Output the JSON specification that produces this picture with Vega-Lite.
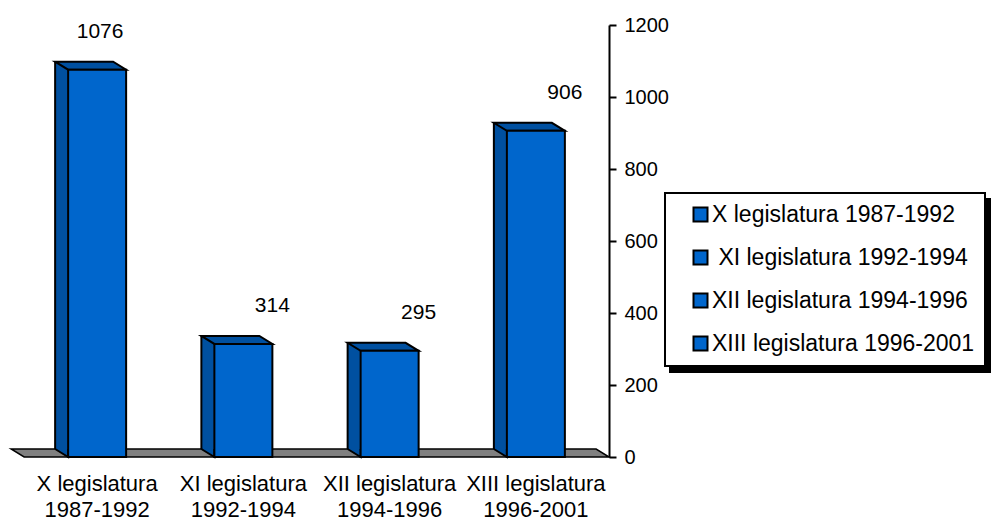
{
  "$schema": "https://vega.github.io/schema/vega-lite/v6.json",
  "width": 585,
  "height": 432,
  "autosize": {"type": "none"},
  "padding": {"left": 24, "top": 25, "right": 386, "bottom": 65},
  "background": "white",
  "data": {"values": [
    {"leg": "X legislatura 1987-1992", "legend": "X legislatura 1987-1992", "value": 1076},
    {"leg": "XI legislatura 1992-1994", "legend": "\u200b\u00a0XI legislatura 1992-1994", "value": 314},
    {"leg": "XII legislatura 1994-1996", "legend": "XII legislatura 1994-1996", "value": 295},
    {"leg": "XIII legislatura 1996-2001", "legend": "XIII legislatura 1996-2001", "value": 906}
  ]},
  "encoding": {
    "x": {
      "field": "leg", "type": "nominal", "sort": null, "title": null,
      "scale": {"paddingInner": 0, "paddingOuter": 0},
      "axis": {
        "domain": false, "ticks": false, "labelAngle": 0, "labelFontSize": 22, "labelColor": "#000",
        "labelLineHeight": 26, "labelPadding": 16, "labelBaseline": "top", "labelFont": "Liberation Sans",
        "labelExpr": "[substring(datum.label, 0, lastindexof(datum.label, ' ')), substring(datum.label, lastindexof(datum.label, ' ') + 1)]"
      }
    },
    "y": {
      "field": "value", "type": "quantitative", "title": null,
      "scale": {"domain": [0, 1200], "nice": false},
      "axis": {
        "orient": "right", "values": [0, 200, 400, 600, 800, 1000, 1200], "format": "d", "grid": false,
        "domainColor": "#000", "domainWidth": 2, "tickColor": "#000", "tickWidth": 2, "tickSize": 7,
        "labelFontSize": 20, "labelColor": "#000", "labelPadding": 8, "labelFont": "Liberation Sans",
        "labelFlush": false, "labelOverlap": false
      }
    }
  },
  "layer": [
    {
      "transform": [{"filter": {"field": "leg", "equal": "X legislatura 1987-1992"}}],
      "mark": {"type": "point", "shape": "M-73,0 L512,0 L499,-8 L-86,-8 Z", "size": 4, "filled": true, "fill": "#808080", "stroke": "#000", "strokeWidth": 1.5, "opacity": 1},
      "encoding": {"y": {"datum": 0, "title": null}}
    },
    {
      "mark": {"type": "point", "opacity": 0},
      "encoding": {
        "color": {
          "field": "leg", "type": "nominal", "title": null,
          "scale": {"domain": ["X legislatura 1987-1992", "XI legislatura 1992-1994", "XII legislatura 1994-1996", "XIII legislatura 1996-2001"], "range": ["#000", "#000", "#000", "#000"]},
          "legend": {"orient": "none", "legendX": 646, "legendY": 174, "fillColor": "#000", "strokeColor": "#000", "labelColor": "#000"}
        }
      }
    },
    {
      "mark": {"type": "bar", "width": 13, "xOffset": -35.5, "yOffset": -8, "y2Offset": -8, "fill": "#0050A0", "strokeWidth": 0},
      "encoding": {"y2": {"datum": 0}}
    },
    {
      "mark": {"type": "point", "shape": "M-42,-8 L-29,0 L-29,-8", "size": 4, "filled": true, "fill": "#0050A0", "stroke": "#000", "strokeWidth": 2, "opacity": 1},
      "encoding": {"y": {"datum": 0, "title": null}}
    },
    {
      "mark": {"type": "rule", "xOffset": -42, "yOffset": -8, "y2Offset": -8, "stroke": "#000", "strokeWidth": 2},
      "encoding": {"y2": {"datum": 0}}
    },
    {
      "mark": {"type": "point", "shape": "M-29,0 L29,0 L16,-8 L-42,-8 Z", "size": 4, "filled": true, "fill": "#0050A0", "stroke": "#000", "strokeWidth": 2, "opacity": 1}
    },
    {
      "mark": {"type": "bar", "width": 58, "stroke": "#000", "strokeWidth": 2},
      "encoding": {
        "y2": {"datum": 0},
        "fill": {
          "field": "legend", "type": "nominal", "title": null,
          "scale": {"domain": ["X legislatura 1987-1992", "\u200b\u00a0XI legislatura 1992-1994", "XII legislatura 1994-1996", "XIII legislatura 1996-2001"], "range": ["#0066CC", "#0066CC", "#0066CC", "#0066CC"]},
          "legend": {"orient": "none", "legendX": 641, "legendY": 168, "fillColor": "#fff", "strokeColor": "#000"}
        }
      }
    },
    {
      "transform": [{"filter": {"field": "leg", "equal": "X legislatura 1987-1992"}}],
      "mark": {"type": "text", "dx": 3, "dy": -32, "baseline": "alphabetic", "align": "center", "fontSize": 21, "color": "#000", "font": "Liberation Sans"},
      "encoding": {"text": {"field": "value", "type": "quantitative", "format": "d"}}
    },
    {
      "transform": [{"filter": {"not": {"field": "leg", "equal": "X legislatura 1987-1992"}}}],
      "mark": {"type": "text", "dx": 29, "dy": -32, "baseline": "alphabetic", "align": "center", "fontSize": 21, "color": "#000", "font": "Liberation Sans"},
      "encoding": {"text": {"field": "value", "type": "quantitative", "format": "d"}}
    }
  ],
  "config": {
    "view": {"stroke": null},
    "font": "Liberation Sans",
    "legend": {
      "symbolType": "square", "symbolSize": 196, "symbolStrokeColor": "#000", "symbolStrokeWidth": 2,
      "labelFontSize": 23, "labelFont": "Liberation Sans", "labelColor": "#000", "labelLimit": 500,
      "padding": 10, "symbolOffset": 14, "rowPadding": 19, "labelOffset": 0, "strokeWidth": 2, "cornerRadius": 0
    }
  }
}
